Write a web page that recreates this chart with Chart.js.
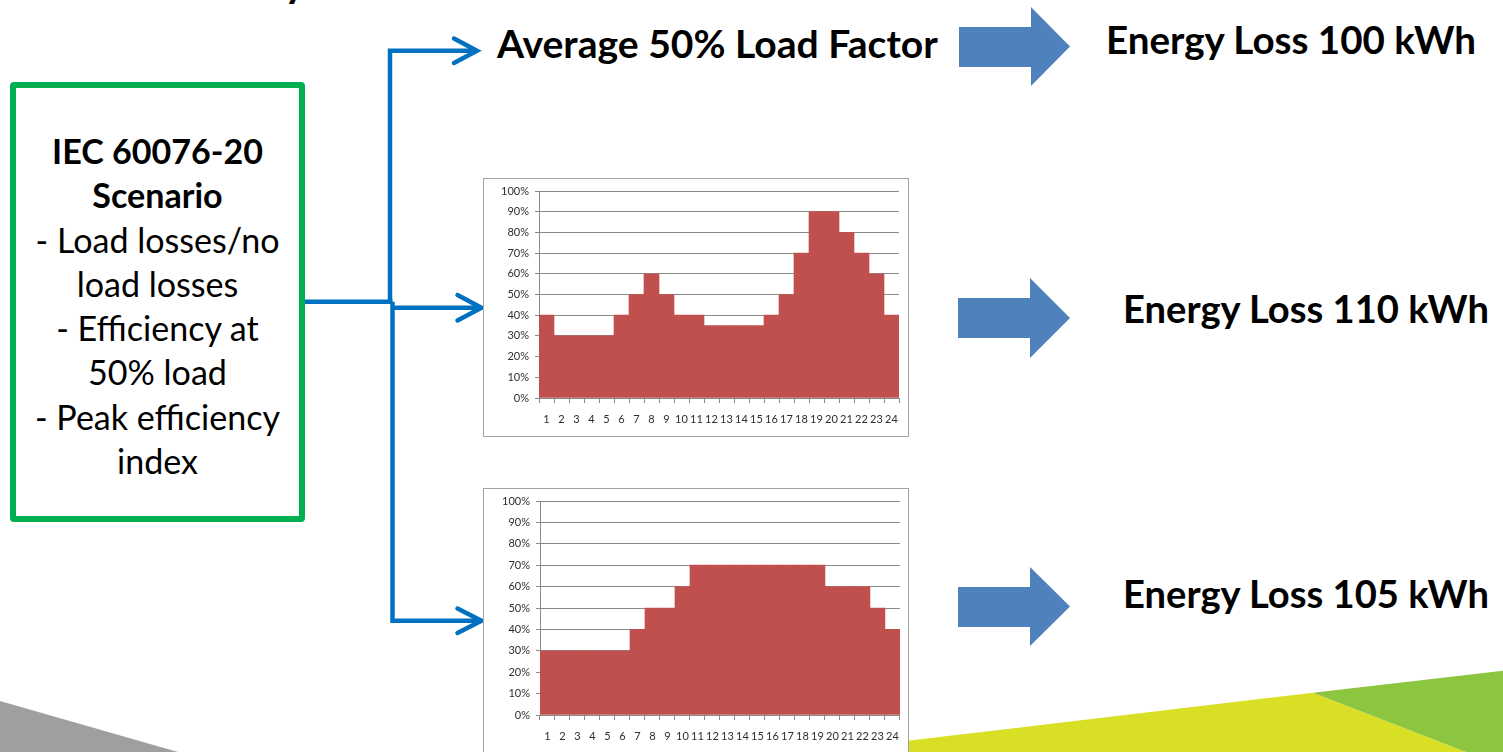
<!DOCTYPE html>
<html>
<head>
<meta charset="utf-8">
<script src="https://cdn.jsdelivr.net/npm/chart.js@4.4.1/dist/chart.umd.min.js"></script>
<style>
  html, body { margin: 0; padding: 0; background: #fff; }
  body { width: 1503px; height: 752px; overflow: hidden; position: relative; font-family: Lato, "Open Sans", sans-serif; }
  #slide { position: absolute; left: 0; top: 0; }
  canvas.chart { position: absolute; background: #fff; outline: 1px solid #a3a3a3; outline-offset: -1px; }
  .scenario { position: absolute; left: 10px; top: 82px; width: 295px; height: 440px; box-sizing: border-box;
              border: 6px solid #00B050; border-radius: 4px; }
</style>
</head>
<body>
<svg id="slide" width="1503" height="752" xmlns="http://www.w3.org/2000/svg">
  <!-- footer shapes -->
  <polygon points="0,701 178,752 0,752" fill="#9f9f9f"/>
  <polygon points="880,744 1313,692.7 1466,752 880,752" fill="#D8DF24"/>
  <polygon points="1313,692.7 1503,670.7 1503,752 1466,752" fill="#8CC540"/>

  <!-- clipped heading descender -->
  <text x="284" y="-3" font-family="Lato" font-weight="700" font-size="42" fill="#000">y</text>

  <!-- connectors from the scenario box -->
  <g stroke="#0070C0" stroke-width="4.5" fill="none" stroke-linejoin="miter">
    <polyline points="303,301.8 392.5,301.8"/>
    <polyline points="390,303 390,50.8 476,50.8"/>
    <polyline points="392.5,301.8 392.5,620.8 480,620.8"/>
    <polyline points="392.5,307.7 481,307.7"/>
  </g>
  <g stroke="#0070C0" stroke-width="4.5" fill="none" stroke-linecap="round" stroke-linejoin="miter">
    <polyline points="454,38.5 477,50.8 454,63"/>
    <polyline points="457.5,295 481.5,307.7 457.5,320.5"/>
    <polyline points="457.5,608.5 481.5,620.8 457.5,633"/>
  </g>

  <!-- block arrows -->
  <g fill="#4F81BD">
    <polygon points="959,27 1031,27 1031,7 1070,46.5 1031,86 1031,67 959,67"/>
    <polygon points="958,298 1030,298 1030,278 1070,318 1030,358 1030,338 958,338"/>
    <polygon points="958,587 1030,587 1030,567 1070,606.5 1030,646 1030,627 958,627"/>
  </g>

  <g id="labels" font-family="Lato, 'Open Sans', sans-serif" fill="#000"></g>
</svg>

<div class="scenario"></div>

<canvas id="profileDaily" class="chart" width="426" height="259" style="left:483px;top:178px;"></canvas>
<canvas id="profileFlat" class="chart" width="426" height="300" style="left:483px;top:488px;"></canvas>

<script>
// Hour of day on the x axis
const hours = ['1','2','3','4','5','6','7','8','9','10','11','12',
               '13','14','15','16','17','18','19','20','21','22','23','24'];

// Hourly load, percent of rating: evening-peak profile
const dailyProfile = [40, 30, 30, 30, 30, 40, 50, 60, 50, 40, 40, 35,
                      35, 35, 35, 40, 50, 70, 90, 90, 80, 70, 60, 40];

// Hourly load, percent of rating: broad daytime plateau
const flatProfile = [30, 30, 30, 30, 30, 30, 40, 50, 50, 60, 70, 70,
                     70, 70, 70, 70, 70, 70, 70, 60, 60, 60, 50, 40];

// Load axis range and step (percent)
const loadAxis = { min: 0, max: 100, step: 10 };

// Slide text
const scenarioLines = [
  { text: 'IEC 60076-20', bold: true },
  { text: 'Scenario', bold: true },
  { text: '- Load losses/no', bold: false },
  { text: 'load losses', bold: false },
  { text: '- Efficiency at', bold: false },
  { text: '50% load', bold: false },
  { text: '- Peak efficiency', bold: false },
  { text: 'index', bold: false }
];
const averageCaseLabel = 'Average 50% Load Factor';
const lossLabels = ['Energy Loss 100 kWh', 'Energy Loss 110 kWh', 'Energy Loss 105 kWh'];

// ---- text on the slide ----
const NS = 'http://www.w3.org/2000/svg';
const labelLayer = document.getElementById('labels');
const CAP = 0.3583; // half of Lato cap height, in em

function addText(str, x, bold, anchor) {
  const t = document.createElementNS(NS, 'text');
  t.textContent = str;
  t.setAttribute('x', x);
  t.setAttribute('font-weight', bold ? 700 : 400);
  t.setAttribute('text-anchor', anchor || 'start');
  t.setAttribute('font-size', 100);
  labelLayer.appendChild(t);
  return t;
}
function sizeFor(node, width) {
  node.setAttribute('font-size', 100);
  return 100 * width / node.getComputedTextLength();
}
function setLine(node, fs, capCenter) {
  node.setAttribute('font-size', fs.toFixed(2));
  node.setAttribute('y', (capCenter + CAP * fs).toFixed(2));
}

// headline row and loss labels
const headRow = [
  { text: averageCaseLabel, x: 497, w: 441, c: 44 },
  { text: lossLabels[0], x: 1106, w: 370, c: 40 },
  { text: lossLabels[1], x: 1123, w: 366, c: 309 },
  { text: lossLabels[2], x: 1123, w: 366, c: 594 }
];
headRow.forEach(h => {
  const n = addText(h.text, h.x, true);
  setLine(n, sizeFor(n, h.w), h.c);
});

// scenario box text, one size for the whole block
const scenarioNodes = scenarioLines.map(l => addText(l.text, 157.5, l.bold, 'middle'));
const scenarioSize = sizeFor(scenarioNodes[2], 244);
scenarioNodes.forEach((n, i) => setLine(n, scenarioSize, 151.7 + i * 44.3));

// ---- load profile charts ----
function loadChart(id, values, yWidth, pad) {
  return new Chart(document.getElementById(id), {
    type: 'bar',
    data: {
      labels: hours,
      datasets: [{
        data: values,
        backgroundColor: '#C0504D',
        borderWidth: 0,
        barPercentage: 1,
        categoryPercentage: 1
      }]
    },
    options: {
      responsive: false,
      animation: false,
      events: [],
      layout: { padding: pad },
      plugins: { legend: { display: false }, tooltip: { enabled: false } },
      scales: {
        x: {
          grid: { drawOnChartArea: false, tickLength: 5, color: '#8a8a8a', offset: true },
          border: { color: '#8a8a8a' },
          ticks: { color: '#2e2e2e', font: { family: 'Lato', size: 11 }, padding: 10, maxRotation: 0, autoSkip: false },
          afterFit(s) { s.height = 39; }
        },
        y: {
          min: loadAxis.min,
          max: loadAxis.max,
          ticks: {
            stepSize: loadAxis.step,
            callback: v => v + '%',
            color: '#2e2e2e',
            font: { family: 'Lato', size: 11 },
            padding: 6
          },
          grid: { color: '#8a8a8a', tickLength: 4 },
          border: { color: '#8a8a8a' },
          afterFit(s) { s.width = yWidth; }
        }
      }
    }
  });
}

loadChart('profileDaily', dailyProfile, 56, { top: 13, right: 10, bottom: 0, left: 0 });
loadChart('profileFlat', flatProfile, 57, { top: 13, right: 9, bottom: 34, left: 0 });
</script>
</body>
</html>
